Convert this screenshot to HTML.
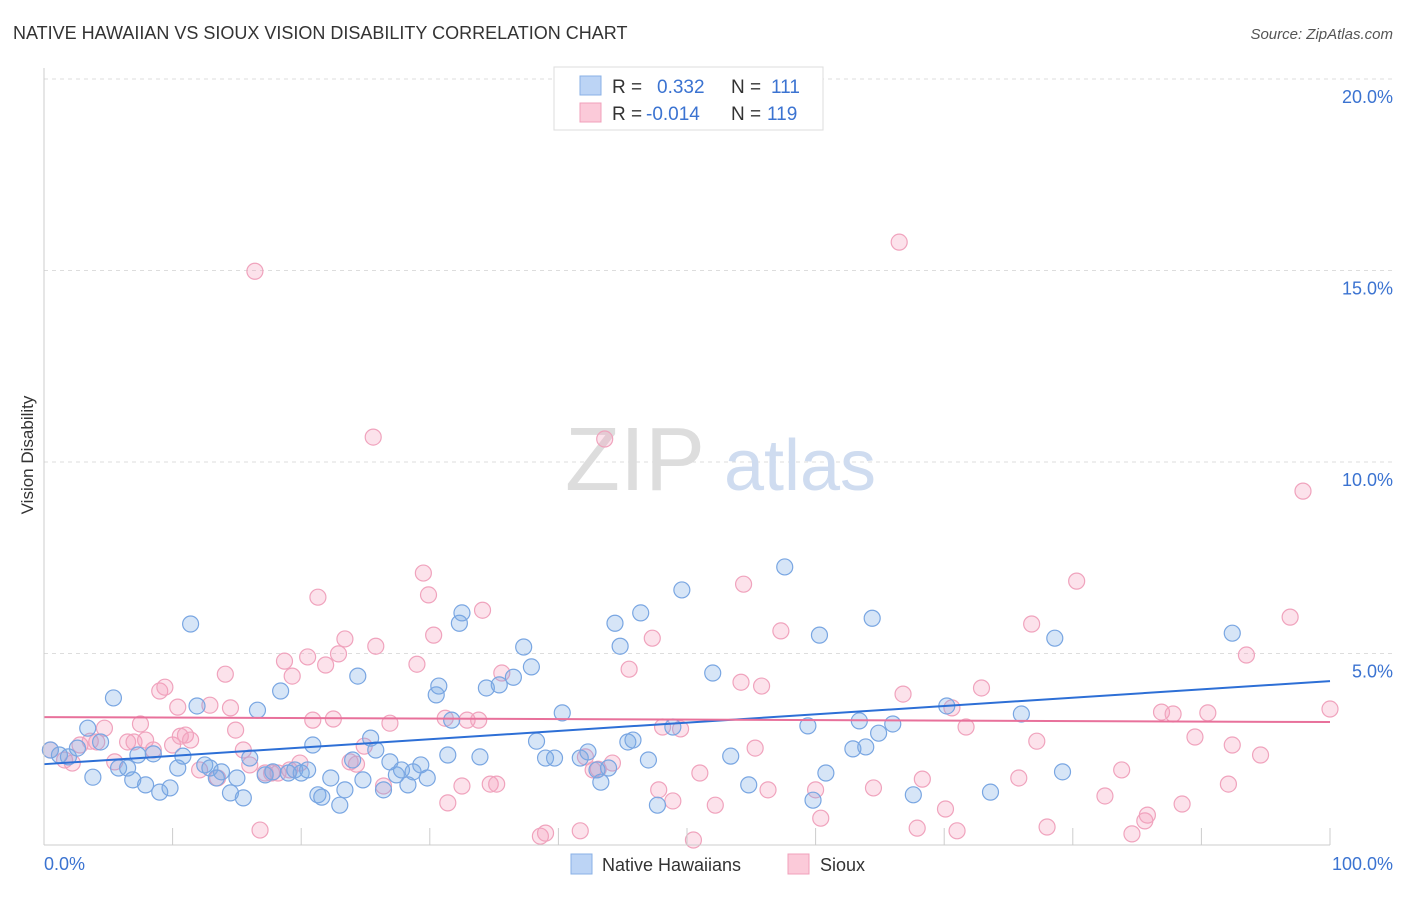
<!DOCTYPE html>
<html><head><meta charset="utf-8"><style>
body{margin:0;background:#fff;font-family:"Liberation Sans",sans-serif;}
svg text{font-family:"Liberation Sans",sans-serif;}
</style></head><body>
<svg id="chart" width="1406" height="892" viewBox="0 0 1406 892" xmlns="http://www.w3.org/2000/svg">
<text x="13" y="39" font-size="18" fill="#333">NATIVE HAWAIIAN VS SIOUX VISION DISABILITY CORRELATION CHART</text>
<text x="1393" y="39" font-size="15" fill="#555" text-anchor="end" font-style="italic">Source: ZipAtlas.com</text>
<text transform="translate(33,455) rotate(-90)" font-size="17" fill="#333" text-anchor="middle">Vision Disability</text>
<g id="grid"></g>
<g><text x="635" y="490" font-size="90" fill="#ddd" text-anchor="middle" font-family="Liberation Serif">ZIP</text><text x="800" y="490" font-size="72" fill="#cfdcf0" text-anchor="middle">atlas</text></g>
<g id="pts"></g>
<g id="trends"></g>
<g id="axes"></g>
<g>
<rect x="554" y="67" width="269" height="63" fill="#fff" stroke="#ddd"/>
<rect x="580" y="76" width="21" height="19" fill="#bcd4f5" stroke="#8ab0e6"/>
<rect x="580" y="103" width="21" height="19" fill="#fbcad9" stroke="#f0a0bb"/>
<text x="612" y="93" font-size="19" fill="#333">R =</text><text x="657" y="93" font-size="19" fill="#3b73d1">0.332</text>
<text x="731" y="93" font-size="19" fill="#333">N =</text><text x="771" y="93" font-size="19" fill="#3b73d1">111</text>
<text x="612" y="120" font-size="19" fill="#333">R =</text><text x="646" y="120" font-size="19" fill="#3b73d1">-0.014</text>
<text x="731" y="120" font-size="19" fill="#333">N =</text><text x="767" y="120" font-size="19" fill="#3b73d1">119</text>
</g>
<g>
<rect x="571" y="854" width="21" height="20" fill="#bcd4f5" stroke="#8ab0e6"/>
<text x="602" y="871" font-size="18" fill="#333">Native Hawaiians</text>
<rect x="788" y="854" width="21" height="20" fill="#fbcad9" stroke="#f0a0bb"/>
<text x="820" y="871" font-size="18" fill="#333">Sioux</text>
</g>
</svg>
<script>
const yTicks=[5,10,15,20];
const yTickLabels=["5.0%","10.0%","15.0%","20.0%"];
const xTickLabels=["0.0%","100.0%"];
const blueX=[0.5,1.2,1.9,2.6,3.4,4.4,3.8,5.4,5.8,6.5,6.9,7.3,7.9,8.5,9.0,9.8,10.4,10.8,11.4,11.9,12.5,12.9,13.4,13.8,14.5,15.0,15.5,16.0,16.6,17.2,17.8,18.4,19.0,19.5,20.0,20.5,20.9,21.3,21.6,22.3,23.0,23.4,24.0,24.4,24.8,25.4,25.8,26.4,26.9,27.4,27.8,28.3,28.7,29.3,29.8,30.5,30.7,31.4,31.7,32.3,32.5,33.9,34.4,35.4,36.5,37.3,37.9,38.3,39.0,39.7,40.3,41.7,42.3,43.0,43.3,43.9,44.4,44.8,45.4,45.8,46.4,47.0,47.7,48.9,49.6,52.0,53.4,54.8,57.6,59.4,59.8,60.3,60.8,62.9,63.4,63.9,64.4,64.9,66.0,67.6,70.2,73.6,76.0,78.6,79.2,92.4];
const blueY=[2.48,2.35,2.30,2.53,3.05,2.69,1.77,3.84,2.01,2.01,1.70,2.35,1.57,2.38,1.38,1.49,2.01,2.32,5.77,3.63,2.09,2.01,1.75,1.91,1.36,1.75,1.23,2.27,3.52,1.83,1.91,4.02,1.88,1.96,1.88,1.96,2.61,1.31,1.25,1.75,1.04,1.44,2.22,4.41,1.70,2.79,2.48,1.44,2.17,1.83,1.96,1.57,1.91,2.09,1.75,3.92,4.15,2.35,3.26,5.79,6.06,2.30,4.10,4.18,4.38,5.17,4.65,2.71,2.27,2.27,3.45,2.27,2.43,1.96,1.64,2.01,5.79,5.19,2.69,2.74,6.06,2.22,1.04,3.08,6.66,4.49,2.32,1.57,7.26,3.11,1.17,5.48,1.88,2.51,3.24,2.56,5.92,2.92,3.16,1.31,3.63,1.38,3.42,5.40,1.91,5.53];
const pinkX=[0.5,1.6,2.2,2.8,3.6,4.1,4.7,5.5,6.5,7.0,7.5,7.9,8.5,9.0,9.4,10.0,10.4,10.6,11.0,11.4,12.1,12.9,13.5,14.1,14.5,14.9,15.5,16.0,16.4,16.8,17.2,17.7,18.2,18.7,19.1,19.3,19.9,20.5,20.9,21.3,21.9,22.5,22.9,23.4,23.8,24.3,24.9,25.6,25.8,26.4,26.9,29.0,29.5,29.9,30.3,31.2,31.4,32.5,32.9,33.8,34.1,34.7,35.2,35.6,38.6,39.0,41.7,42.1,42.7,43.1,43.6,44.2,45.5,47.3,47.8,48.1,48.9,49.5,50.5,51.0,52.2,54.2,54.4,55.3,55.8,56.3,57.3,60.0,60.4,64.5,66.5,66.8,67.9,68.3,70.1,70.6,71.0,71.7,72.9,75.8,76.8,77.2,78.0,80.3,82.5,83.8,84.6,85.6,85.8,86.9,87.8,88.5,89.5,90.5,92.1,92.4,93.5,94.6,96.9,97.9,100];
const pinkY=[2.48,2.22,2.14,2.61,2.71,2.69,3.05,2.17,2.69,2.69,3.16,2.74,2.48,4.02,4.12,2.61,3.60,2.84,2.87,2.74,1.96,3.65,1.75,4.46,3.58,3.00,2.48,2.09,14.98,0.39,1.88,1.88,1.88,4.80,1.96,4.41,2.14,4.91,3.26,6.47,4.70,3.29,4.99,5.38,2.17,2.11,2.58,10.65,5.19,1.54,3.18,4.72,7.10,6.53,5.48,3.31,1.10,1.54,3.26,3.26,6.13,1.59,1.59,4.49,0.23,0.31,0.37,2.30,1.96,1.98,10.60,2.14,4.59,5.40,1.44,3.08,1.15,3.03,0.13,1.88,1.04,4.25,6.81,2.53,4.15,1.44,5.59,1.44,0.70,1.49,15.74,3.94,0.44,1.72,0.94,3.58,0.37,3.08,4.10,1.75,5.77,2.71,0.47,6.89,1.28,1.96,0.29,0.63,0.78,3.47,3.42,1.07,2.82,3.45,1.59,2.61,4.96,2.35,5.95,9.24,3.55];
const blueTrend=[2.11,4.28];
const pinkTrend=[3.34,3.21];

const NS="http://www.w3.org/2000/svg";
const X0=44,X1=1330,Y0=845,Y20=79;
const sx=v=>X0+(X1-X0)*v/100;
const sy=v=>Y0-(Y0-Y20)*v/20;
function mk(tag,attrs,parent){const e=document.createElementNS(NS,tag);for(const k in attrs)e.setAttribute(k,attrs[k]);parent.appendChild(e);return e;}
const grid=document.getElementById('grid');
yTicks.forEach((t,i)=>{
  const l=mk('line',{x1:X0,x2:1394,y1:sy(t),y2:sy(t),stroke:'#ddd','stroke-dasharray':'4,4'},grid);
  
  
  const tx=mk('text',{x:1393,y:sy(t)+24,'font-size':18,fill:'#3b73d1','text-anchor':'end'},grid);
  tx.textContent=yTickLabels[i];
  
  
});
const axes=document.getElementById('axes');
mk('line',{x1:X0,x2:X0,y1:68,y2:Y0,stroke:'#ccc'},axes);
mk('line',{x1:X0,x2:X1,y1:Y0,y2:Y0,stroke:'#ccc'},axes);
for(let i=0;i<=10;i++){const t=mk('line',{x1:sx(i*10),x2:sx(i*10),y1:Y0,y2:828,stroke:'#ccc'},axes);
  
  }
const xl0=mk('text',{x:44,y:870,'font-size':18,fill:'#3b73d1'},axes);xl0.textContent=xTickLabels[0];


const xl1=mk('text',{x:1393,y:870,'font-size':18,fill:'#3b73d1','text-anchor':'end'},axes);xl1.textContent=xTickLabels[1];


const pts=document.getElementById('pts');
pinkX.forEach((x,i)=>{const c=mk('circle',{cx:sx(x),cy:sy(pinkY[i]),r:8,fill:'rgba(244,160,190,0.3)',stroke:'#f0a3bd','stroke-width':1.2},pts);
  
  });
blueX.forEach((x,i)=>{const c=mk('circle',{cx:sx(x),cy:sy(blueY[i]),r:8,fill:'rgba(120,170,230,0.3)',stroke:'#79a6e2','stroke-width':1.2},pts);
  
  });
const tr=document.getElementById('trends');
const bl=mk('line',{x1:sx(0),x2:sx(100),y1:sy(blueTrend[0]),y2:sy(blueTrend[1]),stroke:'#2d6fd6','stroke-width':2},tr);


const pl=mk('line',{x1:sx(0),x2:sx(100),y1:sy(pinkTrend[0]),y2:sy(pinkTrend[1]),stroke:'#e8719b','stroke-width':2},tr);


</script>
</body></html>
